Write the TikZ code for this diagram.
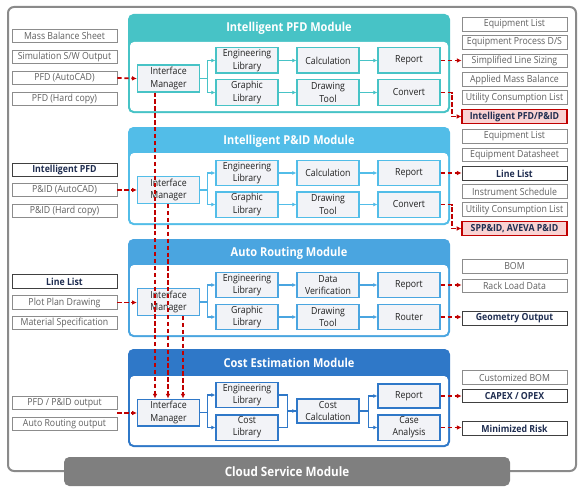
\documentclass[tikz,border=0pt]{standalone}
\usepackage{fontspec}
\setmainfont{Open Sans}[FakeStretch=0.9]
\usetikzlibrary{arrows.meta,calc}
\definecolor{cA}{HTML}{47C3C6}
\definecolor{cB}{HTML}{52BDE8}
\definecolor{cC}{HTML}{4AA5E0}
\definecolor{cD}{HTML}{2F78C8}
\definecolor{boxfill}{HTML}{F2F3F7}
\definecolor{redc}{HTML}{C00000}
\definecolor{framegray}{HTML}{8A8A8A}
\definecolor{cloudgray}{HTML}{7F7F7F}
\definecolor{graytext}{HTML}{606060}
\definecolor{navy}{HTML}{1F2D50}
\definecolor{pinkfill}{HTML}{F9D3D3}
\definecolor{darktext}{HTML}{202020}
\begin{document}
\begin{tikzpicture}[x=0.75pt,y=-0.75pt,
 ib/.style={draw=#1, fill=boxfill, line width=1pt, minimum width=46.5pt, minimum height=19pt, inner sep=0pt, align=center, text=darktext, font=\fontsize{7.3}{9.2}\selectfont},
 lb/.style={draw=black!45, fill=white, line width=0.6pt, minimum width=78.75pt, minimum height=10pt, inner sep=0pt, text=graytext, font=\fontsize{7.3}{8}\selectfont},
 lbb/.style={lb, draw=black!75, text=navy, font=\fontsize{7.3}{8}\selectfont\bfseries},
 lbr/.style={lb, draw=redc, fill=pinkfill, text=navy, line width=0.9pt, font=\fontsize{7.3}{8}\selectfont\bfseries},
 arr/.style={draw=#1, line width=0.8pt, -{Latex[length=3pt,width=3pt]}},
 ln/.style={draw=#1, line width=0.8pt},
 rd/.style={draw=redc, line width=1.3pt, dash pattern=on 3.2pt off 2pt, -{Latex[length=3.5pt,width=3.5pt]}},
 hd/.style={text=white, font=\fontsize{9.2}{11}\selectfont\bfseries}
]
\useasboundingbox (0,0) rectangle (585,492);
% outer frame
\draw[framegray, line width=1.5pt, rounded corners=4.5pt] (8,7) rectangle (576,471);

% ---------- module boxes ----------
\fill[cA, rounded corners=4pt] (128,14) rectangle (450,113);
\fill[white, rounded corners=3pt] (130,42) rectangle (448,111);
\node[hd] (h1) at (289,28) {Intelligent PFD Module};

\fill[cB, rounded corners=4pt] (128,127) rectangle (450,225);
\fill[white, rounded corners=3pt] (130,153) rectangle (448,223);
\node[hd] (h2) at (289,141) {Intelligent P\&ID Module};

\fill[cC, rounded corners=4pt] (128,239) rectangle (450,337);
\fill[white, rounded corners=3pt] (130,265) rectangle (448,335);
\node[hd] (h3) at (289,253) {Auto Routing Module};

\fill[cD, rounded corners=4pt] (128,349) rectangle (450,447);
\fill[white, rounded corners=3pt] (130,376) rectangle (448,445);
\node[hd] (h4) at (289,363) {Cost Estimation Module};

% cloud
\fill[cloudgray, rounded corners=4pt] (64,457) rectangle (510,486);
\node[text=white, font=\fontsize{9.7}{11}\selectfont\bfseries] (cloud) at (287,472) {Cloud Service Module};

% ---------- Module 1 ----------
\node[ib=cA, minimum height=20pt] (im1) at (168.5,78.5) {Interface\\Manager};
\node[ib=cA] (eng1) at (247,60.5) {Engineering\\Library};
\node[ib=cA] (gra1) at (247,92.5) {Graphic\\Library};
\node[ib=cA] (cal1) at (328,60.5) {Calculation};
\node[ib=cA] (dt1) at (328,92.5) {Drawing\\Tool};
\node[ib=cA] (rep1) at (409,60.5) {Report};
\node[ib=cA] (cv1) at (409,92.5) {Convert};
\coordinate (f1) at ($(im1.east)+(7,0)$);
\draw[ln=cA] (im1.east) -- (f1);
\draw[arr=cA] (f1) |- (eng1.west);
\draw[arr=cA] (f1) |- (gra1.west);
\draw[arr=cA] (eng1.east) -- (cal1.west);
\draw[arr=cA] (cal1.east) -- (rep1.west);
\draw[arr=cA] (gra1.east) -- (dt1.west);
\draw[arr=cA] (dt1.east) -- (cv1.west);

\node[lb] (mbs) at (64.5,36) {Mass Balance Sheet};
\node[lb] (sim) at (64.5,57) {Simulation S/W Output};
\node[lb] (pfdc) at (64.5,78) {PFD (AutoCAD)};
\node[lb] (pfdh) at (64.5,99) {PFD (Hard copy)};

\node[lb] (r11) at (514.5,24.5) {Equipment List};
\node[lb] (r12) at (514.5,42.5) {Equipment Process D/S};
\node[lb] (r13) at (514.5,61) {Simplified Line Sizing};
\node[lb] (r14) at (514.5,79.5) {Applied Mass Balance};
\node[lb] (r15) at (514.5,97.5) {Utility Consumption List};
\node[lbr] (r16) at (514.5,116.5) {Intelligent PFD/P\&ID};

% ---------- Module 2 ----------
\node[ib=cB, minimum height=20pt] (im2) at (168.5,190) {Interface\\Manager};
\node[ib=cB] (eng2) at (247,173) {Engineering\\Library};
\node[ib=cB] (gra2) at (247,204.5) {Graphic\\Library};
\node[ib=cB] (cal2) at (328,173) {Calculation};
\node[ib=cB] (dt2) at (328,204.5) {Drawing\\Tool};
\node[ib=cB] (rep2) at (409,173) {Report};
\node[ib=cB] (cv2) at (409,204.5) {Convert};
\coordinate (f2) at ($(im2.east)+(7,0)$);
\draw[ln=cB] (im2.east) -- (f2);
\draw[arr=cB] (f2) |- (eng2.west);
\draw[arr=cB] (f2) |- (gra2.west);
\draw[arr=cB] (eng2.east) -- (cal2.west);
\draw[arr=cB] (cal2.east) -- (rep2.west);
\draw[arr=cB] (gra2.east) -- (dt2.west);
\draw[arr=cB] (dt2.east) -- (cv2.west);

\node[lbb] (ipfd) at (64.5,170) {Intelligent PFD};
\node[lb] (pidc) at (64.5,190) {P\&ID (AutoCAD)};
\node[lb] (pidh) at (64.5,211) {P\&ID (Hard copy)};

\node[lb] (r21) at (514.5,136.5) {Equipment List};
\node[lb] (r22) at (514.5,155) {Equipment Datasheet};
\node[lbb] (r23) at (514.5,173.5) {Line List};
\node[lb] (r24) at (514.5,191.5) {Instrument Schedule};
\node[lb] (r25) at (514.5,209.5) {Utility Consumption List};
\node[lbr] (r26) at (514.5,228.5) {SPP\&ID, AVEVA P\&ID};

% ---------- Module 3 ----------
\node[ib=cC, minimum height=20pt] (im3) at (168.5,302) {Interface\\Manager};
\node[ib=cC] (eng3) at (247,285) {Engineering\\Library};
\node[ib=cC] (gra3) at (247,317) {Graphic\\Library};
\node[ib=cC] (dv3) at (328,285) {Data\\Verification};
\node[ib=cC] (dt3) at (328,317) {Drawing\\Tool};
\node[ib=cC] (rep3) at (409,285) {Report};
\node[ib=cC] (rt3) at (409,317) {Router};
\coordinate (f3) at ($(im3.east)+(7,0)$);
\draw[ln=cC] (im3.east) -- (f3);
\draw[arr=cC] (f3) |- (eng3.west);
\draw[arr=cC] (f3) |- (gra3.west);
\draw[arr=cC] (eng3.east) -- (dv3.west);
\draw[arr=cC] (dv3.east) -- (rep3.west);
\draw[arr=cC] (gra3.east) -- (dt3.west);
\draw[arr=cC] (dt3.east) -- (rt3.west);

\node[lbb] (ll) at (64.5,281.5) {Line List};
\node[lb] (ppd) at (64.5,302.5) {Plot Plan Drawing};
\node[lb] (msp) at (64.5,323) {Material Specification};

\node[lb] (bom) at (514.5,266.5) {BOM};
\node[lb] (rld) at (514.5,286) {Rack Load Data};
\node[lbb] (geo) at (514.5,318.5) {Geometry Output};

% ---------- Module 4 ----------
\node[ib=cD, minimum height=20pt] (im4) at (168.5,412.5) {Interface\\Manager};
\node[ib=cD] (eng4) at (247,395) {Engineering\\Library};
\node[ib=cD] (cl4) at (247,427.5) {Cost\\Library};
\node[ib=cD, minimum height=18pt] (cc4) at (328,411) {Cost\\Calculation};
\node[ib=cD, minimum height=18pt] (rep4) at (409,396) {Report};
\node[ib=cD] (ca4) at (409,427.5) {Case\\Analysis};
\coordinate (f4) at ($(im4.east)+(7,0)$);
\draw[ln=cD] (im4.east) -- (f4);
\draw[arr=cD] (f4) |- (eng4.west);
\draw[arr=cD] (f4) |- (cl4.west);
\coordinate (g4) at ($(eng4.east)+(9,0)$);
\draw[ln=cD] (eng4.east) -- (g4) |- (cc4.west);
\draw[ln=cD] (cl4.east) -| (g4);
\draw[arr=cD] (g4 |- cc4.west) -- (cc4.west);
\coordinate (k4) at ($(cc4.east)+(9,0)$);
\draw[ln=cD] (cc4.east) -- (k4);
\draw[arr=cD] (k4) |- (rep4.west);
\draw[arr=cD] (k4) |- (ca4.west);

\node[lb] (ppo) at (64.5,403) {PFD / P\&ID output};
\node[lb] (aro) at (64.5,424) {Auto Routing output};

\node[lb] (cbom) at (514.5,377.5) {Customized BOM};
\node[lbb] (cap) at (514.5,396) {CAPEX / OPEX};
\node[lbb] (mr) at (514.5,428.5) {Minimized Risk};

% ---------- red dashed connectors ----------
\draw[rd] (pfdc.east) -- (im1.west);
\draw[rd] (rep1.east) -- (rep1.east -| r13.west);
\draw[rd] (cv1.east) -- ++(11,0) |- (r16.west);

\draw[rd] (pidc.east) -- (im2.west);
\draw[rd] (rep2.east) -- (rep2.east -| r23.west);
\draw[rd] (cv2.east) -- ++(11,0) |- (r26.west);

\draw[rd] (ppd.east) -- (ppd.east -| im3.west);
\draw[rd] (rep3.east) -- (rep3.east -| rld.west);
\draw[rd] (rt3.east) -- (rt3.east -| geo.west);

\coordinate (in4) at ([yshift=0.375pt]$(ppo.south east)!0.5!(aro.north east)$);
\draw[rd] (in4) -- (in4 -| im4.west);
\draw[rd] (rep4.east) -- (rep4.east -| cap.west);
\draw[rd] (ca4.east) -- (ca4.east -| mr.west);

\draw[rd] ([xshift=-10.125pt]im1.south) -- ([xshift=-10.125pt]im4.north);
\draw[rd] ([xshift=-0.375pt]im2.south) -- ([xshift=-0.375pt]im4.north);
\draw[rd] ([xshift=10.875pt]im3.south) -- ([xshift=10.875pt]im4.north);
\end{tikzpicture}
\end{document}
